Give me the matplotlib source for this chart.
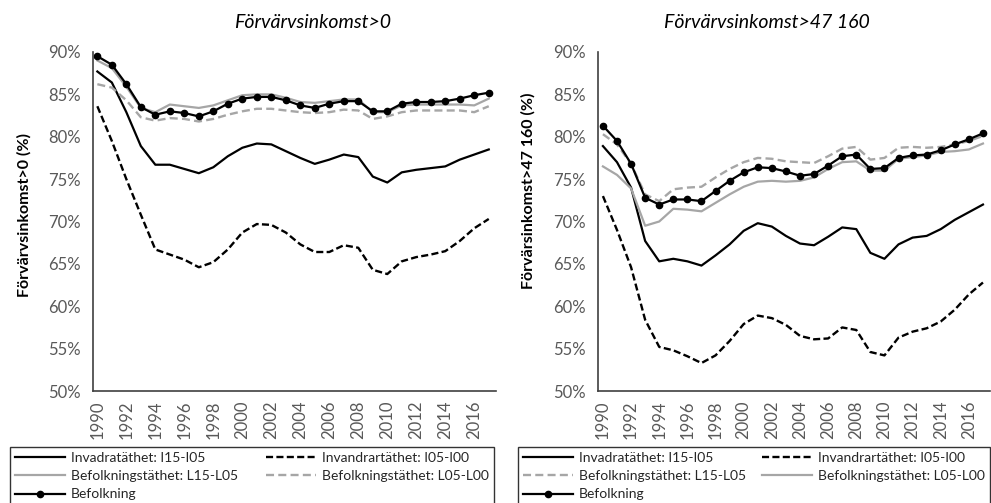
import matplotlib
matplotlib.use("Agg")
import matplotlib.pyplot as plt
import numpy as np

plt.rcParams['font.family'] = ['Lato', 'DejaVu Sans']

years = list(range(1990, 2018))
tick_years = list(range(1990, 2017, 2))

# Förvärvsinkomst>0
a_i15_i05 = [87.7, 86.4, 82.9, 78.9, 76.7, 76.7, 76.2, 75.7, 76.4, 77.7, 78.7, 79.2, 79.1, 78.3,
             77.5, 76.8, 77.3, 77.9, 77.6, 75.3, 74.6, 75.8, 76.1, 76.3, 76.5, 77.3, 77.9, 78.5]
a_i05_i00 = [83.6, 79.5, 75.0, 70.8, 66.7, 66.1, 65.5, 64.6, 65.2, 66.7, 68.7, 69.7, 69.6, 68.7,
             67.3, 66.4, 66.4, 67.2, 66.9, 64.3, 63.8, 65.3, 65.8, 66.1, 66.5, 67.7, 69.2, 70.3]
a_l15_l05 = [89.0, 88.1, 85.9, 83.4, 82.9, 83.8, 83.6, 83.4, 83.7, 84.3, 84.9, 85.0, 85.0, 84.6,
             84.1, 84.0, 84.2, 84.4, 84.4, 82.9, 82.9, 83.7, 83.8, 83.8, 83.8, 83.8, 83.7, 84.5]
a_l05_l00 = [86.2, 85.8, 84.3, 82.3, 81.9, 82.2, 82.1, 81.8, 82.1, 82.6, 83.0, 83.3, 83.3, 83.1,
             82.9, 82.8, 82.9, 83.2, 83.1, 82.1, 82.4, 82.9, 83.1, 83.1, 83.1, 83.1, 82.9, 83.6]
a_bef = [89.5, 88.5, 86.2, 83.5, 82.6, 83.0, 82.8, 82.4, 83.0, 83.9, 84.5, 84.7, 84.7, 84.3,
         83.7, 83.4, 83.9, 84.2, 84.2, 83.0, 83.0, 83.9, 84.1, 84.1, 84.2, 84.5, 84.9, 85.2]

# Förvärvsinkomst>47 160
b_i15_i05 = [78.9, 77.0, 74.0, 67.7, 65.3, 65.6, 65.3, 64.8, 66.0, 67.3, 68.9, 69.8, 69.4, 68.3,
             67.4, 67.2, 68.2, 69.3, 69.1, 66.3, 65.6, 67.3, 68.1, 68.3, 69.1, 70.2, 71.1, 72.0]
b_i05_i00 = [73.0, 69.0, 64.6, 58.4, 55.2, 54.8, 54.1, 53.3, 54.2, 55.9, 57.9, 58.9, 58.6, 57.8,
             56.5, 56.1, 56.2, 57.5, 57.2, 54.6, 54.2, 56.3, 57.0, 57.4, 58.2, 59.6, 61.4, 62.8]
b_l15_l05 = [80.3, 79.1, 76.8, 73.2, 72.4, 73.8, 74.0, 74.1, 75.2, 76.2, 77.0, 77.5, 77.4, 77.1,
             77.0, 76.9, 77.7, 78.6, 78.8, 77.3, 77.5, 78.7, 78.8, 78.7, 78.8, 79.1, 79.5, 80.1]
b_l05_l00 = [76.5, 75.5, 73.9, 69.5, 70.0, 71.5, 71.4, 71.2, 72.2, 73.2, 74.1, 74.7, 74.8, 74.7,
             74.8, 75.2, 76.2, 77.0, 77.1, 76.0, 76.0, 77.4, 77.6, 77.8, 78.2, 78.3, 78.5, 79.2]
b_bef = [81.3, 79.5, 76.8, 72.8, 72.0, 72.6, 72.6, 72.4, 73.6, 74.8, 75.8, 76.4, 76.3, 75.9,
         75.4, 75.6, 76.6, 77.7, 77.9, 76.2, 76.3, 77.5, 77.8, 77.9, 78.4, 79.1, 79.7, 80.4]

lbl_i15 = "Invadratäthet: I15-I05"
lbl_i05 = "Invandrartäthet: I05-I00"
lbl_l15 = "Befolkningstäthet: L15-L05"
lbl_l05 = "Befolkningstäthet: L05-L00"
lbl_bef = "Befolkning"

GRAY = "#a6a6a6"
TXT = "#595959"

fig = plt.figure(figsize=(9.91, 5.03), dpi=100)
ax1 = fig.add_axes([93 / 991, 1 - 391 / 503, 403 / 991, (391 - 52) / 503])
ax2 = fig.add_axes([598 / 991, 1 - 391 / 503, 392 / 991, (391 - 52) / 503])

x = np.arange(len(years))


def draw(ax, i15, i05, sol_gray, dash_gray, bef):
    h = {}
    h['i15'], = ax.plot(x, i15, color='black', lw=1.6)
    h['i05'], = ax.plot(x, i05, color='black', lw=1.7, dashes=(3.0, 1.4))
    h['sg'], = ax.plot(x, sol_gray, color=GRAY, lw=1.6)
    h['dg'], = ax.plot(x, dash_gray, color=GRAY, lw=1.7, dashes=(3.4, 1.8))
    h['bef'], = ax.plot(x, bef, color='black', lw=1.6, marker='o', markersize=4.5)
    ax.set_ylim(50, 90)
    ax.set_yticks(range(50, 91, 5))
    ax.set_yticklabels([f"{v}%" for v in range(50, 91, 5)])
    ax.set_xticks([years.index(y) for y in tick_years])
    ax.set_xticklabels([str(y) for y in tick_years], rotation=90)
    ax.tick_params(length=0, colors=TXT, labelsize=12)
    ax.tick_params(axis='y', pad=9)
    ax.tick_params(axis='x', pad=7)
    for s in ['top', 'right']:
        ax.spines[s].set_visible(False)
    for s in ['left', 'bottom']:
        ax.spines[s].set_color('#404040')
        ax.spines[s].set_linewidth(1.2)
    return h


h1 = draw(ax1, a_i15_i05, a_i05_i00, a_l15_l05, a_l05_l00, a_bef)
ax1.set_xlim(-0.3, 27.5)
h2 = draw(ax2, b_i15_i05, b_i05_i00, b_l05_l00, b_l15_l05, b_bef)
ax2.set_xlim(-0.35, 27.5)

fig.text(313 / 991, 1 - 22 / 503, "Förvärvsinkomst>0", style='italic', fontsize=14,
         ha='center', va='center', color='black')
fig.text(767 / 991, 1 - 22 / 503, "Förvärvsinkomst>47 160", style='italic', fontsize=14,
         ha='center', va='center', color='black')
fig.text(24 / 991, 1 - 215 / 503, "Förvärvsinkomst>0 (%)", rotation=90, fontweight='bold',
         fontsize=11.5, ha='center', va='center')
fig.text(528 / 991, 1 - 191 / 503, "Förvärsinkomst>47 160 (%)", rotation=90, fontweight='bold',
         fontsize=11.5, ha='center', va='center')

leg_kw = dict(ncol=2, loc='upper left', bbox_transform=fig.transFigure, fontsize=10,
              handlelength=3.6, handletextpad=0.45, labelspacing=0.45,
              borderpad=0.35, borderaxespad=0, frameon=True, fancybox=False,
              labelcolor='#262626')

# column-major fill: col 1 = rows 1-3 left entries, col 2 = rows 1-2 right entries
l1 = fig.legend([h1['i15'], h1['sg'], h1['bef'], h1['i05'], h1['dg']],
                [lbl_i15, lbl_l15, lbl_bef, lbl_i05, lbl_l05],
                bbox_to_anchor=(10 / 991, 1 - 447 / 503), columnspacing=2.0, **leg_kw)
l2 = fig.legend([h2['i15'], h2['dg'], h2['bef'], h2['i05'], h2['sg']],
                [lbl_i15, lbl_l15, lbl_bef, lbl_i05, lbl_l05],
                bbox_to_anchor=(518 / 991, 1 - 447 / 503), columnspacing=1.1, **leg_kw)
for lg in (l1, l2):
    fr = lg.get_frame()
    fr.set_edgecolor('black')
    fr.set_linewidth(1.0)
    fr.set_boxstyle('square', pad=0)

fig.savefig("out.png", dpi=100)
